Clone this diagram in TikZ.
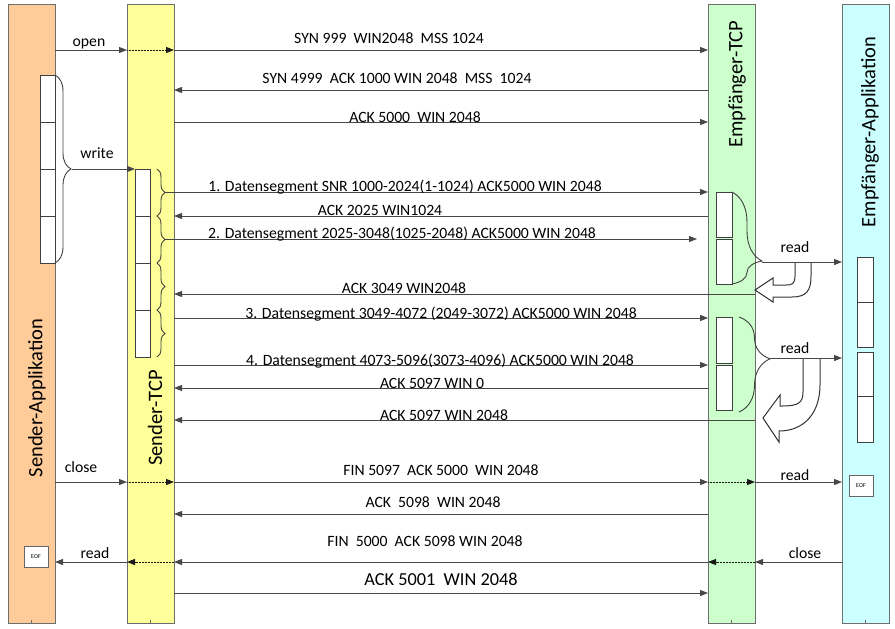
\documentclass[tikz,border=0pt]{standalone}
\usepackage{fontspec}
\setmainfont{Carlito}
\usepackage{tikz}
\usetikzlibrary{arrows.meta,decorations.pathreplacing}

\definecolor{sacol}{RGB}{255,204,153}
\definecolor{stcol}{RGB}{255,255,153}
\definecolor{etcol}{RGB}{204,255,204}
\definecolor{eacol}{RGB}{204,255,255}
\definecolor{lanegray}{RGB}{110,110,110}

\tikzset{
  lane/.style={draw=lanegray, line width=1pt, anchor=north west, inner sep=0pt, outer sep=0pt,
    minimum width=47pt, minimum height=619pt},
  lanelabel/.style={rotate=90, inner sep=0pt, font=\fontsize{20.5}{24}\selectfont},
  lanetick/.style={draw=lanegray, line width=0.8pt},
  msg/.style={draw=black!72, line width=1pt, -{Triangle[length=8pt,width=6pt]}},
  inlane/.style={msg, draw=black!90, dash pattern=on 1pt off 0.5pt},
  lbl/.style={anchor=base, inner sep=0pt, font=\fontsize{15.7}{18}\selectfont},
  cell/.style={draw=black!75, fill=white, line width=1pt, anchor=north west, inner sep=0pt,
    outer sep=0pt, minimum width=15pt},
  bracket/.style={draw=black!75, line width=0.9pt, decorate, decoration={brace, amplitude=#1}},
  hollow/.style={draw=black!80, fill=white, line width=1pt},
  eofbox/.style={draw=black!60, fill=white, line width=0.8pt, inner sep=0pt,
    minimum width=24pt, minimum height=21pt, font=\fontsize{6}{7}\selectfont}
}

\begin{document}
\begin{tikzpicture}[x=1pt,y=-1pt]
  \useasboundingbox (0,0) rectangle (895,629);

  % the four lanes
  \node[lane, fill=sacol] (sa) at (8,4) {};
  \node[lane, fill=stcol] (st) at (127,4) {};
  \node[lane, fill=etcol] (et) at (708,4) {};
  \node[lane, fill=eacol] (ea) at (842,4) {};
  \foreach \l in {sa,st,et,ea}
    \draw[lanetick] (\l.south) -- ++(0,-3);

  \node[lanelabel] (salbl) at (37,398) {Sender-Applikation};
  \node[lanelabel] (stlbl) at (155,418) {Sender-TCP};
  \node[lanelabel] (etlbl) at (737,84) {Empfänger-TCP};
  \node[lanelabel] (ealbl) at (870,132) {Empfänger-Applikation};

  % buffers
  \foreach \i in {1,...,4}
    \node[cell, minimum height=47pt] (sb\i) at (40,75+47*\i-47) {};
  \foreach \i in {1,...,4}
    \node[cell, minimum height=47pt] (tb\i) at (135,169+47*\i-47) {};
  \node[cell, minimum width=16pt, minimum height=45pt] (rb1) at (716,192) {};
  \node[cell, minimum width=16pt, minimum height=45pt] (rb2) at (716,239) {};
  \node[cell, minimum width=16pt, minimum height=46pt] (rb3) at (716,317) {};
  \node[cell, minimum width=16pt, minimum height=45pt] (rb4) at (716,365) {};
  \node[cell, minimum width=16pt, minimum height=45pt] (ab1) at (857,257) {};
  \node[cell, minimum width=16pt, minimum height=45pt] (ab2) at (857,302) {};
  \node[cell, minimum width=16pt, minimum height=44pt] (ab3) at (857,352) {};
  \node[cell, minimum width=16pt, minimum height=46pt] (ab4) at (857,396) {};

  % braces
  \draw[bracket=16pt] (sb1.north east) -- (sb4.south east);
  \coordinate (wtip) at (72,169);
  \foreach \i in {1,...,4}
    \draw[bracket=8pt] (157,169+47*\i-47) -- ++(0,47);
  \coordinate (seg1) at (165,192);
  \coordinate (seg2) at (165,239);
  \draw[bracket=30pt, decoration={aspect=0.75}] (rb1.north east) -- (rb2.south east);
  \coordinate (rtip1) at (762,262);
  \draw[bracket=31pt, decoration={aspect=0.44}] (739,317) -- (739,412);
  \coordinate (rtip2) at (770,358);

  % hollow turn arrows
  \draw[hollow] (795,262) -- (795,276) .. controls (795,284) and (792,285) .. (786,285)
    -- (773,285) -- (773,278) -- (755,290) -- (773,302) -- (773,297) -- (792,297)
    .. controls (807,297) and (811,290) .. (811,276) -- (811,262);
  \draw[hollow] (803,358) -- (803,392) .. controls (803,403) and (798,406) .. (782,406)
    -- (780,406) -- (780,395) -- (763,418) -- (779,442) -- (779,431)
    .. controls (805,431) and (820,412) .. (820,385) -- (820,358);

  % EOF marks
  \node[eofbox] (eofr) at (861,485.5) {EOF};
  \node[eofbox] (eofl) at (36,556.5) {EOF};

  % connection setup
  \draw[msg] (sa.east |- 0,50) -- (st.west |- 0,50);
  \draw[inlane] (st.west |- 0,50) -- (st.east |- 0,50);
  \draw[msg] (st.east |- 0,50) -- (et.west |- 0,50);
  \draw[msg] (et.west |- 0,90) -- (st.east |- 0,90);
  \draw[msg] (st.east |- 0,122) -- (et.west |- 0,122);
  \node[lbl] (open) at (89,46) {open};
  \node[lbl] (m1) at (389,43) {SYN 999\ \ WIN2048\ \ MSS 1024};
  \node[lbl] (m2) at (397,83) {SYN 4999\ \ ACK 1000 WIN 2048\ \ MSS\ \ 1024};
  \node[lbl] (m3) at (415,122) {ACK 5000\ \ WIN 2048};

  % data transfer
  \draw[msg] (wtip) -- (tb1.north west);
  \node[lbl] (write) at (97,158) {write};
  \draw[msg] (seg1) -- (et.west |- seg1);
  \draw[msg] (et.west |- 0,216) -- (st.east |- 0,216);
  \draw[msg] (seg2) -- (697,239);
  \draw[msg] (et.east |- 0,294) -- (st.east |- 0,294);
  \draw[msg] (st.east |- 0,318) -- (et.west |- 0,318);
  \draw[msg] (st.east |- 0,365) -- (et.west |- 0,365);
  \draw[msg] (et.west |- 0,388) -- (st.east |- 0,388);
  \draw[msg] (et.east |- 0,420) -- (st.east |- 0,420);
  \node[lbl] (m4) at (405,191) {1. Datensegment SNR 1000-2024(1-1024) ACK5000 WIN 2048};
  \node[lbl] (m5) at (380,215) {ACK 2025 WIN1024};
  \node[lbl] (m6) at (402,238) {2. Datensegment 2025-3048(1025-2048) ACK5000 WIN 2048};
  \node[lbl] (m7) at (404,293) {ACK 3049 WIN2048};
  \node[lbl] (m8) at (441,318) {3. Datensegment 3049-4072 (2049-3072) ACK5000 WIN 2048};
  \node[lbl] (m9) at (440,365) {4. Datensegment 4073-5096(3073-4096) ACK5000 WIN 2048};
  \node[lbl] (m10) at (432,388) {ACK 5097 WIN 0};
  \node[lbl] (m11) at (444,420) {ACK 5097 WIN 2048};

  % reads at the receiver
  \draw[msg] (rtip1) -- (ea.west |- rtip1);
  \draw[msg] (rtip2) -- (ea.west |- rtip2);
  \node[lbl] (read1) at (795,252) {read};
  \node[lbl] (read2) at (795,353) {read};

  % connection release
  \draw[msg] (sa.east |- 0,482) -- (st.west |- 0,482);
  \draw[inlane] (st.west |- 0,482) -- (st.east |- 0,482);
  \draw[msg] (st.east |- 0,482) -- (et.west |- 0,482);
  \draw[inlane] (et.west |- 0,482) -- (et.east |- 0,482);
  \draw[msg] (et.east |- 0,482) -- (ea.west |- 0,482);
  \draw[msg] (et.west |- 0,514) -- (st.east |- 0,514);
  \draw[msg] (ea.west |- 0,562) -- (et.east |- 0,562);
  \draw[inlane] (et.east |- 0,562) -- (et.west |- 0,562);
  \draw[msg] (et.west |- 0,562) -- (st.east |- 0,562);
  \draw[inlane] (st.east |- 0,562) -- (st.west |- 0,562);
  \draw[msg] (st.west |- 0,562) -- (sa.east |- 0,562);
  \draw[msg] (st.east |- 0,593) -- (et.west |- 0,593);
  \node[lbl] (close1) at (81,472) {close};
  \node[lbl] (read3) at (795,480) {read};
  \node[lbl] (m12) at (441,475) {FIN 5097\ \ ACK 5000\ \ WIN 2048};
  \node[lbl] (m13) at (433,507) {ACK\ \ 5098\ \ WIN 2048};
  \node[lbl] (m14) at (425,546) {FIN\ \ 5000\ \ ACK 5098 WIN 2048};
  \node[lbl] (close2) at (805,558) {close};
  \node[lbl] (read4) at (95,558) {read};
  \node[lbl, font=\fontsize{18.3}{21}\selectfont] (m15) at (441,585) {ACK 5001\ \ WIN 2048};
\end{tikzpicture}
\end{document}
